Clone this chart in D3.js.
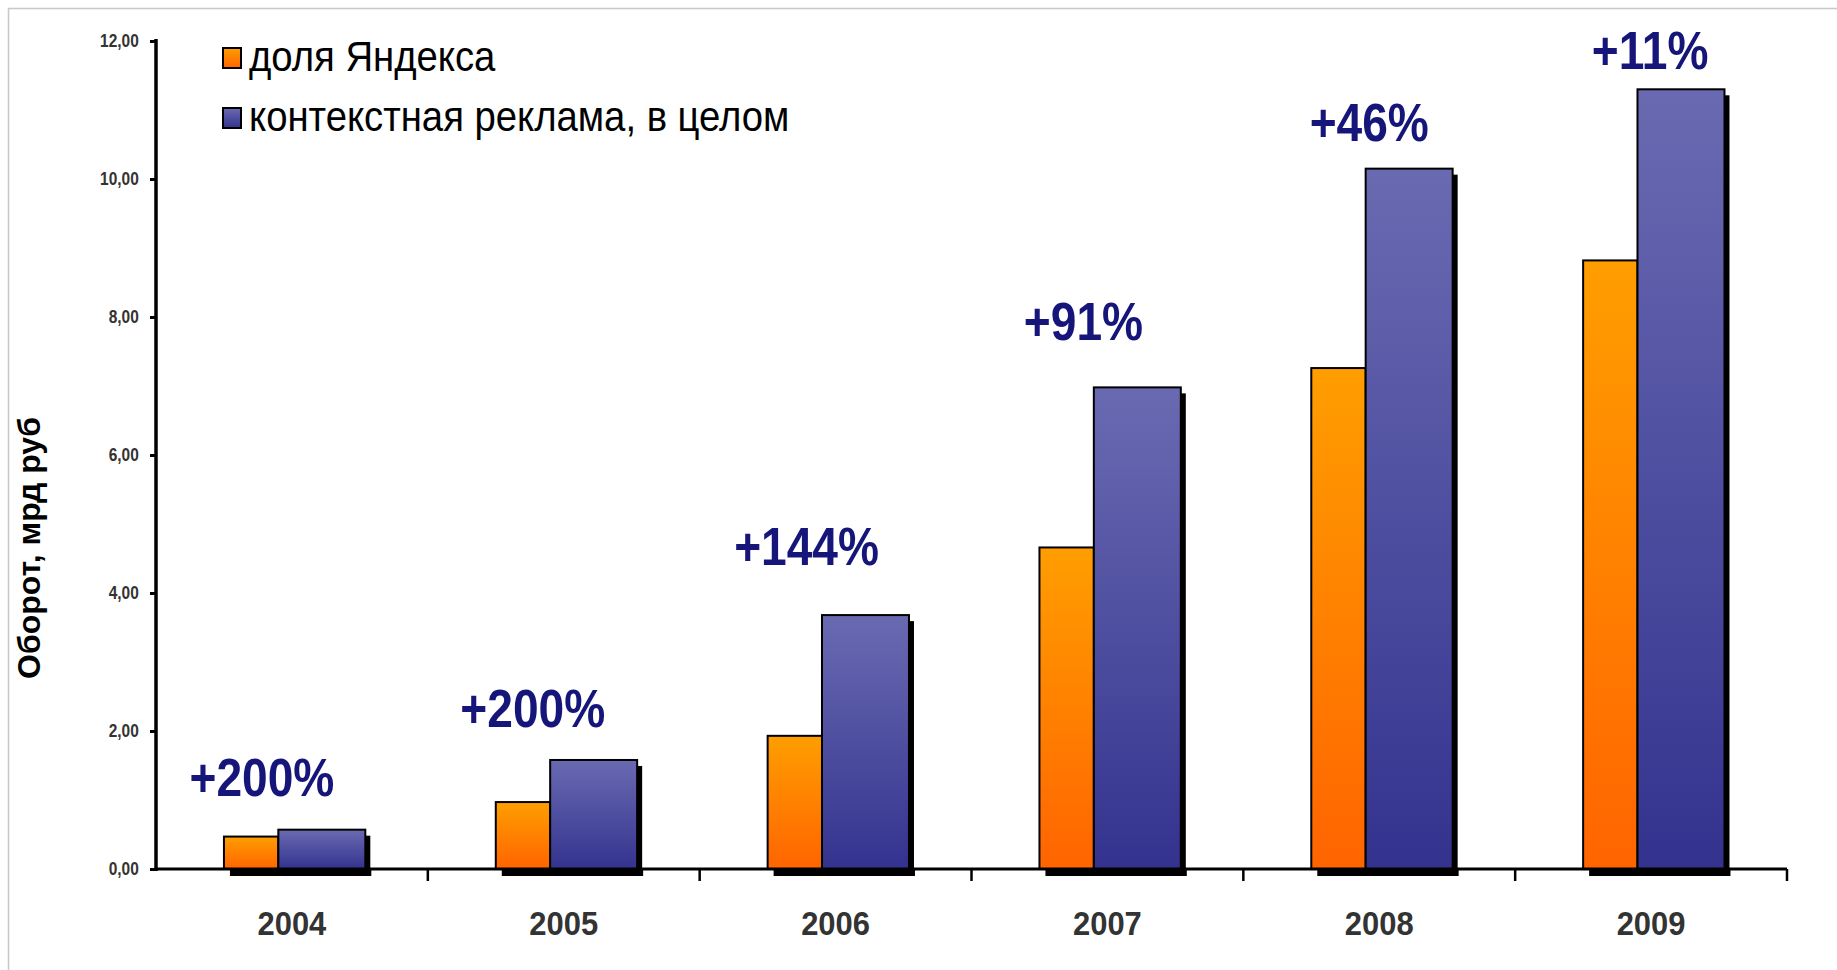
<!DOCTYPE html>
<html>
<head>
<meta charset="utf-8">
<script src="https://cdn.jsdelivr.net/npm/d3@7"></script>
<style>
  html, body { margin: 0; padding: 0; background: #fff; }
  svg { display: block; }
</style>
</head>
<body>
<svg id="chart" width="1837" height="970"></svg>
<script>
// ---------- data ----------
const years = ["2004", "2005", "2006", "2007", "2008", "2009"];
const yandexShare = [0.47, 0.97, 1.93, 4.66, 7.26, 8.82];
const contextTotal = [0.57, 1.58, 3.68, 6.98, 10.15, 11.30];
const growthLabels = ["+200%", "+200%", "+144%", "+91%", "+46%", "+11%"];
const yTicks = [0, 2, 4, 6, 8, 10, 12];
const seriesNames = ["доля Яндекса", "контекстная реклама, в целом"];
const yTitle = "Оборот, мрд руб";

// ---------- layout ----------
const W = 1837, H = 970;
const plot = { left: 156, right: 1787, top: 41, bottom: 869 };
const sans = "'Liberation Sans', Arial, sans-serif";
const labelShift = [ // manual annotation placement (dx px from group centre, gap px above bar)
  { dx: -30, gap: 34 }, { dx: -31, gap: 33 }, { dx: -29, gap: 50 },
  { dx: -24, gap: 47 }, { dx: -10, gap: 28 }, { dx: -1, gap: 20 }
];

const svg = d3.select("#chart");

// frame
svg.append("path")
  .attr("d", `M8.5,${H} V8.5 H${W}`)
  .attr("fill", "none").attr("stroke", "#c8c8c8").attr("stroke-width", 1.5);

const x = d3.scaleBand().domain(years).range([plot.left, plot.right]).paddingInner(0).paddingOuter(0);
const y = d3.scaleLinear().domain([0, 12]).range([plot.bottom, plot.top]);
const bw = x.bandwidth();
const sub = { oStart: 0.25, oWidth: 0.20, bWidth: 0.32 };

// gradients
const defs = svg.append("defs");
const gO = defs.append("linearGradient").attr("id", "gOrange").attr("x1", 0).attr("y1", 0).attr("x2", 0).attr("y2", 1);
gO.append("stop").attr("offset", "0%").attr("stop-color", "#ff9e00");
gO.append("stop").attr("offset", "100%").attr("stop-color", "#ff6400");
const gB = defs.append("linearGradient").attr("id", "gBlue").attr("x1", 0).attr("y1", 0).attr("x2", 0).attr("y2", 1);
gB.append("stop").attr("offset", "0%").attr("stop-color", "#6a6ab2");
gB.append("stop").attr("offset", "100%").attr("stop-color", "#33338f");

// data rows
const rows = years.map((yr, i) => ({ yr, o: yandexShare[i], b: contextTotal[i], lab: growthLabels[i], i }));

// shadows
const shadow = svg.append("g");
rows.forEach(r => {
  const x0 = x(r.yr) + bw * sub.oStart;
  const x1 = x0 + bw * sub.oWidth + bw * sub.bWidth;
  const topB = y(r.b);
  shadow.append("rect").attr("x", x0 + 6).attr("y", y(0) - 1).attr("width", x1 - x0).attr("height", 8).attr("fill", "#000");
  shadow.append("rect").attr("x", x1 - 2).attr("y", topB + 6).attr("width", 7).attr("height", y(0) - topB).attr("fill", "#000");
});

// bars
const bars = svg.append("g");
bars.selectAll("rect.o").data(rows).join("rect").attr("class", "o")
  .attr("x", d => x(d.yr) + bw * sub.oStart)
  .attr("y", d => y(d.o))
  .attr("width", bw * sub.oWidth)
  .attr("height", d => y(0) - y(d.o))
  .attr("fill", "url(#gOrange)").attr("stroke", "#000").attr("stroke-width", 2);
bars.selectAll("rect.b").data(rows).join("rect").attr("class", "b")
  .attr("x", d => x(d.yr) + bw * (sub.oStart + sub.oWidth))
  .attr("y", d => y(d.b))
  .attr("width", bw * sub.bWidth)
  .attr("height", d => y(0) - y(d.b))
  .attr("fill", "url(#gBlue)").attr("stroke", "#000").attr("stroke-width", 2);

// y axis
const yAxis = svg.append("g").attr("transform", `translate(${plot.left},0)`)
  .call(d3.axisLeft(y).tickValues(yTicks).tickSize(6).tickPadding(10)
    .tickFormat(d => d3.format(".2f")(d).replace(".", ",")));
yAxis.select(".domain").attr("stroke", "#000").attr("stroke-width", 3.5).attr("d", `M0,${plot.top - 2}V${plot.bottom + 2}`);
yAxis.selectAll(".tick line").attr("stroke", "#000").attr("stroke-width", 3);
yAxis.selectAll(".tick text").attr("fill", "#333").style("font-family", sans)
  .style("font-weight", "bold").style("font-size", "18px")
  .attr("x", -20).attr("transform", "scale(0.86,1)");

// x axis
const xAxis = svg.append("g").attr("transform", `translate(0,${plot.bottom})`)
  .call(d3.axisBottom(x).tickSize(0).tickPadding(42));
xAxis.select(".domain").remove();
xAxis.append("line").attr("x1", plot.left).attr("x2", plot.right).attr("y1", 0).attr("y2", 0)
  .attr("stroke", "#000").attr("stroke-width", 3);
const bounds = years.map(v => x(v)).concat([plot.right]);
xAxis.selectAll("line.sep").data(bounds.slice(1)).join("line").attr("class", "sep")
  .attr("x1", d => d).attr("x2", d => d).attr("y1", 0).attr("y2", 12)
  .attr("stroke", "#000").attr("stroke-width", 2.5);
xAxis.selectAll(".tick text").attr("fill", "#333").style("font-family", sans)
  .style("font-weight", "bold").style("font-size", "34px")
  .attr("transform", "scale(0.91,1)");

// growth labels
svg.append("g").selectAll("text").data(rows).join("text")
  .attr("transform", d => `translate(${x(d.yr) + bw / 2 + labelShift[d.i].dx},${y(d.b) - labelShift[d.i].gap}) scale(0.87,1)`)
  .attr("text-anchor", "middle")
  .attr("fill", "#15157a")
  .style("font-family", sans).style("font-weight", "bold").style("font-size", "53px")
  .text(d => d.lab);

// y title
svg.append("text")
  .attr("transform", `translate(40,548) rotate(-90)`)
  .attr("text-anchor", "middle")
  .style("font-family", sans).style("font-weight", "bold").style("font-size", "32px")
  .attr("fill", "#000")
  .text(yTitle);

// legend
const legend = svg.append("g").attr("transform", "translate(222,0)");
const legFill = ["url(#gOrange)", "url(#gBlue)"];
const legY = [58, 118];
seriesNames.forEach((name, i) => {
  legend.append("rect").attr("x", 1).attr("y", legY[i] - 10).attr("width", 18).attr("height", 20)
    .attr("fill", legFill[i]).attr("stroke", "#000").attr("stroke-width", 2);
  legend.append("text").attr("transform", `translate(27,${legY[i] + 13}) scale(0.89,1)`)
    .style("font-family", sans).style("font-size", "43px").attr("fill", "#000").text(name);
});
</script>
</body>
</html>
